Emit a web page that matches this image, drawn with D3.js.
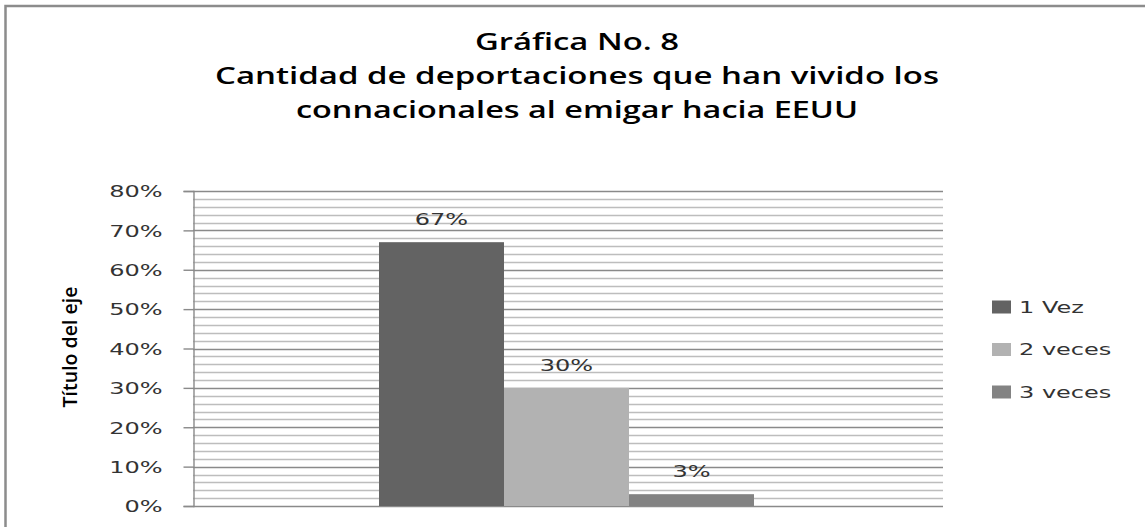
<!DOCTYPE html>
<html><head><meta charset="utf-8">
<script src="https://cdn.jsdelivr.net/npm/d3@7"></script>
<style>
html,body{margin:0;padding:0;background:#fff;}
svg{display:block;}
</style></head>
<body>
<svg id="c" width="1145" height="527"></svg>
<script>
const titleLines = ["Gráfica No. 8", "Cantidad de deportaciones que han vivido los", "connacionales al emigar hacia EEUU"];
const categories = [""];
const seriesNames = ["1 Vez", "2 veces", "3 veces"];
const seriesValues = [0.67, 0.30, 0.03];
const seriesColors = ["#636363", "#b2b2b2", "#838383"];
const yTicks = [0, 0.1, 0.2, 0.3, 0.4, 0.5, 0.6, 0.7, 0.8];
const yMinorStep = 0.02;
const yTitle = "Título del eje";

const svg = d3.select("#c");
const STRETCH = 1.5;
function stretch(sel, f) {
  sel.each(function(){
    const n = this.getComputedTextLength();
    d3.select(this).attr("textLength", n * (f || STRETCH)).attr("lengthAdjust", "spacingAndGlyphs");
  });
}

// frame (top and left edges visible)
svg.append("path").attr("d", "M5.5,527 V6 H1145").attr("fill", "none")
  .attr("stroke", "#8c8c8c").attr("stroke-width", 2.5);

const plot = {l: 193, r: 943, t: 191, b: 506};
const y = d3.scaleLinear().domain([0, 0.8]).range([plot.b, plot.t]);
const x0 = d3.scaleBand().domain(categories).range([plot.l, plot.r]).paddingInner(0).paddingOuter(0.5);
const x1 = d3.scaleBand().domain(seriesNames).range([0, x0.bandwidth()]).padding(0);

// minor gridlines
const minor = d3.range(0, 0.8 + 1e-9, yMinorStep).filter(v => Math.abs(Math.round(v*10) - v*10) > 1e-6);
svg.append("g").selectAll("line").data(minor).join("line")
  .attr("x1", plot.l).attr("x2", plot.r)
  .attr("y1", d => Math.round(y(d)) + 0.5).attr("y2", d => Math.round(y(d)) + 0.5)
  .attr("stroke", "#bdbdbd").attr("stroke-width", 1.5);
// major gridlines
svg.append("g").selectAll("line").data(yTicks).join("line")
  .attr("x1", plot.l).attr("x2", plot.r)
  .attr("y1", d => Math.round(y(d)) + 0.5).attr("y2", d => Math.round(y(d)) + 0.5)
  .attr("stroke", "#8a8a8a").attr("stroke-width", 1.4);

// bars
const g = svg.append("g").attr("transform", `translate(${x0(categories[0]) - 1.5},0)`);
g.selectAll("rect").data(seriesNames).join("rect")
  .attr("x", (d) => x1(d))
  .attr("width", x1.bandwidth())
  .attr("y", (d, i) => y(seriesValues[i]))
  .attr("height", (d, i) => y(0) - y(seriesValues[i]))
  .attr("fill", (d, i) => seriesColors[i]);

// data labels
g.selectAll("text").data(seriesNames).join("text")
  .attr("x", d => x1(d) + x1.bandwidth() / 2)
  .attr("y", (d, i) => y(seriesValues[i]) - 17)
  .attr("text-anchor", "middle")
  .attr("font-family", "DejaVu Sans").attr("font-size", 16).attr("fill", "#333")
  .text((d, i) => d3.format(".0%")(seriesValues[i]))
  .call(stretch);

// y axis
const yAxis = d3.axisLeft(y).tickValues(yTicks).tickFormat(d3.format(".0%")).tickSize(10).tickPadding(21);
const ax = svg.append("g").attr("transform", `translate(${plot.l + 0.5},0)`).call(yAxis);
ax.select(".domain").attr("stroke", "#8a8a8a").attr("stroke-width", 1.4);
ax.selectAll(".tick line").attr("stroke", "#8a8a8a").attr("stroke-width", 1.4);
ax.selectAll(".tick text").attr("font-family", "DejaVu Sans").attr("font-size", 16).attr("fill", "#333").attr("dy", "0.36em")
  .call(stretch);

// y title
svg.append("text").attr("transform", "translate(77,347) rotate(-90)")
  .attr("text-anchor", "middle").attr("font-family", "Open Sans").attr("font-weight", 600)
  .attr("font-size", 20).attr("fill", "#000")
  .attr("textLength", 121).attr("lengthAdjust", "spacingAndGlyphs")
  .text(yTitle);

// title
const titleWidths = [204, 724, 562];
svg.append("g").selectAll("text").data(titleLines).join("text")
  .attr("x", 577).attr("y", (d, i) => 50 + i * 34)
  .attr("text-anchor", "middle").attr("font-family", "Open Sans").attr("font-weight", 600)
  .attr("font-size", 24).attr("fill", "#000")
  .attr("textLength", (d, i) => titleWidths[i]).attr("lengthAdjust", "spacingAndGlyphs")
  .text(d => d);

// legend
const lg = svg.append("g").selectAll("g").data(seriesNames).join("g")
  .attr("transform", (d, i) => `translate(992,${307 + i * 42.5})`);
lg.append("rect").attr("x", 0).attr("y", -6.5).attr("width", 19).attr("height", 13)
  .attr("fill", (d, i) => seriesColors[i]);
lg.append("text").attr("x", 27).attr("y", 0).attr("dy", "0.36em")
  .attr("font-family", "DejaVu Sans").attr("font-size", 16).attr("fill", "#333")
  .text(d => d).call(stretch);
</script>
</body></html>
